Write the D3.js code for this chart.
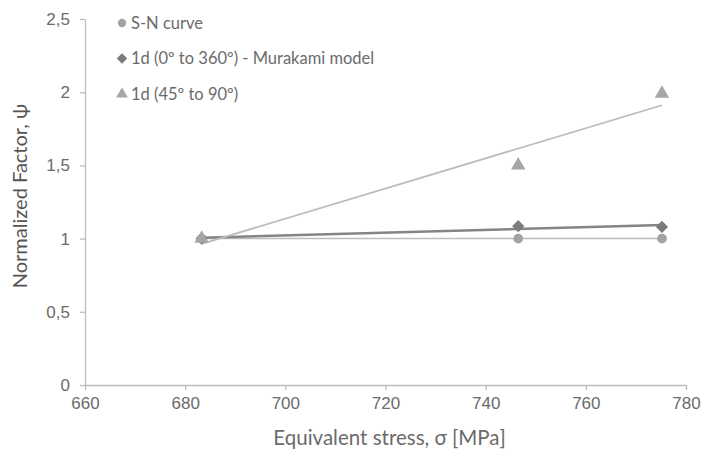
<!DOCTYPE html>
<html>
<head>
<meta charset="utf-8">
<script src="https://cdn.jsdelivr.net/npm/d3@7"></script>
<style>
  body { margin: 0; background: #fff; }
  svg { font-family: Lato, "Open Sans", sans-serif; }
</style>
</head>
<body>
<div id="chart"></div>
<script>
var width = 704,
    height = 455;

// data
var stress = [683.3, 746.5, 775.2];
var snCurve = [1.0, 1.0, 1.0];
var murakami = [1.0, 1.085, 1.08];
var angle45 = [1.0, 1.5, 1.99];
var seriesNames = ["S-N curve", "1d (0\u00ba to 360\u00ba) - Murakami model", "1d (45\u00ba to 90\u00ba)"];
var xTicks = [660, 680, 700, 720, 740, 760, 780];
var yTicks = [0, 0.5, 1, 1.5, 2, 2.5];

var diamond = {
  draw: function(ctx, size) {
    var r = Math.sqrt(size / 2);
    ctx.moveTo(0, -r); ctx.lineTo(r, 0); ctx.lineTo(0, r); ctx.lineTo(-r, 0); ctx.closePath();
  }
};

var series = [
  { name: seriesNames[0], values: snCurve, shape: d3.symbolCircle, fill: "#a3a3a3", line: "#bdbdbd", lw: 1.5 },
  { name: seriesNames[1], values: murakami, shape: diamond, fill: "#7c7c7c", line: "#858585", lw: 2.5 },
  { name: seriesNames[2], values: angle45, shape: d3.symbolTriangle, fill: "#a6a6a6", line: "#bcbcbc", lw: 1.8 }
];

var svg = d3.select("#chart").append("svg")
    .attr("width", width)
    .attr("height", height);

var x = d3.scaleLinear().domain([660, 780]).range([85, 686]);
var y = d3.scaleLinear().domain([0, 2.5]).range([385, 19]);

var axisColor = "#bdbdbd",
    textColor = "#6b6b6b";

// axes
var xAxis = svg.append("g")
    .attr("transform", "translate(0," + y(0) + ")")
    .call(d3.axisBottom(x).tickValues(xTicks).tickSize(5).tickSizeOuter(0).tickPadding(7));
var yAxis = svg.append("g")
    .attr("transform", "translate(" + x(660) + ",0)")
    .call(d3.axisLeft(y).tickValues(yTicks).tickSize(5).tickSizeOuter(0).tickPadding(10)
      .tickFormat(function(d) { return String(d).replace(".", ","); }));

[xAxis, yAxis].forEach(function(a) {
  a.select(".domain").attr("stroke", axisColor).attr("stroke-width", 1.3);
  a.selectAll(".tick line").attr("stroke", axisColor).attr("stroke-width", 1.3);
  a.selectAll(".tick text").attr("fill", textColor).style("font-size", "17px");
});

// linear trend lines (least squares)
function fit(xs, ys) {
  var mx = d3.mean(xs), my = d3.mean(ys), sxy = 0, sxx = 0;
  for (var i = 0; i < xs.length; i++) {
    sxy += (xs[i] - mx) * (ys[i] - my);
    sxx += (xs[i] - mx) * (xs[i] - mx);
  }
  var b = sxy / sxx;
  return function(v) { return my + b * (v - mx); };
}

var g = svg.append("g");
series.forEach(function(s) {
  var f = fit(stress, s.values);
  var ends = [d3.min(stress), d3.max(stress)];
  g.append("line")
    .attr("x1", x(ends[0])).attr("y1", y(f(ends[0])))
    .attr("x2", x(ends[1])).attr("y2", y(f(ends[1])))
    .attr("stroke", s.line)
    .attr("stroke-width", s.lw);
});

series.forEach(function(s) {
  g.selectAll(null).data(s.values).enter().append("path")
    .attr("d", d3.symbol().type(s.shape).size(s.shape === d3.symbolTriangle ? 90 : 75))
    .attr("transform", function(d, i) { return "translate(" + x(stress[i]) + "," + y(d) + ")"; })
    .attr("fill", s.fill);
});

// legend
var legend = svg.append("g").attr("transform", "translate(122,23)");
var rows = legend.selectAll("g").data(series).enter().append("g")
    .attr("transform", function(d, i) { return "translate(0," + (i * 35.5) + ")"; });
rows.append("path")
    .attr("d", function(d) { return d3.symbol().type(d.shape).size(d.shape === d3.symbolTriangle ? 60 : 55)(); })
    .attr("fill", function(d) { return d.fill; });
rows.append("text")
    .attr("x", 9)
    .attr("dy", "0.35em")
    .attr("fill", textColor)
    .style("font-size", "16.5px")
    .text(function(d) { return d.name; });

// axis titles
svg.append("text")
    .attr("x", x(720) + 4)
    .attr("y", 445)
    .attr("text-anchor", "middle")
    .attr("fill", textColor)
    .style("font-size", "20.5px")
    .text("Equivalent stress, \u03c3 [MPa]");

svg.append("text")
    .attr("transform", "translate(27," + (y(1.25) - 6) + ") rotate(-90)")
    .attr("text-anchor", "middle")
    .attr("fill", "#555")
    .style("font-size", "20px")
    .text("Normalized Factor, \u03c8");
</script>
</body>
</html>
